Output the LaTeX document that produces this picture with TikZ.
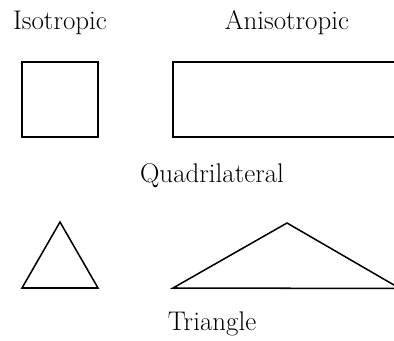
\documentclass[tikz,border=0pt]{standalone}
\usepackage{tikz}
\usetikzlibrary{positioning}

\begin{document}
\begin{tikzpicture}[x=0.03cm,y=-0.03cm,
      every node/.style={font=\fontsize{23}{27}\selectfont},
      caption/.style={inner sep=0pt,anchor=base},
      outline/.style={draw,line width=1.3pt,line join=miter}
    ]
      \useasboundingbox (0,0) rectangle (394,341);

      \node[caption] (iso) at (60,30) {Isotropic};
      \node[caption] (aniso) at (287,30) {Anisotropic};
      \node[caption] (quad) at (212,183) {Quadrilateral};
      \node[caption] (tri) at (212,330) {Triangle};

      % quadrilaterals
      \draw[outline] (22,62) rectangle (98,137);
      \draw[outline] (173,62) rectangle (400,137);

      % triangles
      \draw[outline] (22,288) -- (60,222) -- (98,288) -- cycle;
      \draw[outline] (173,288) -- (287,223) -- (400,288.5) -- cycle;
    \end{tikzpicture}
\end{document}
